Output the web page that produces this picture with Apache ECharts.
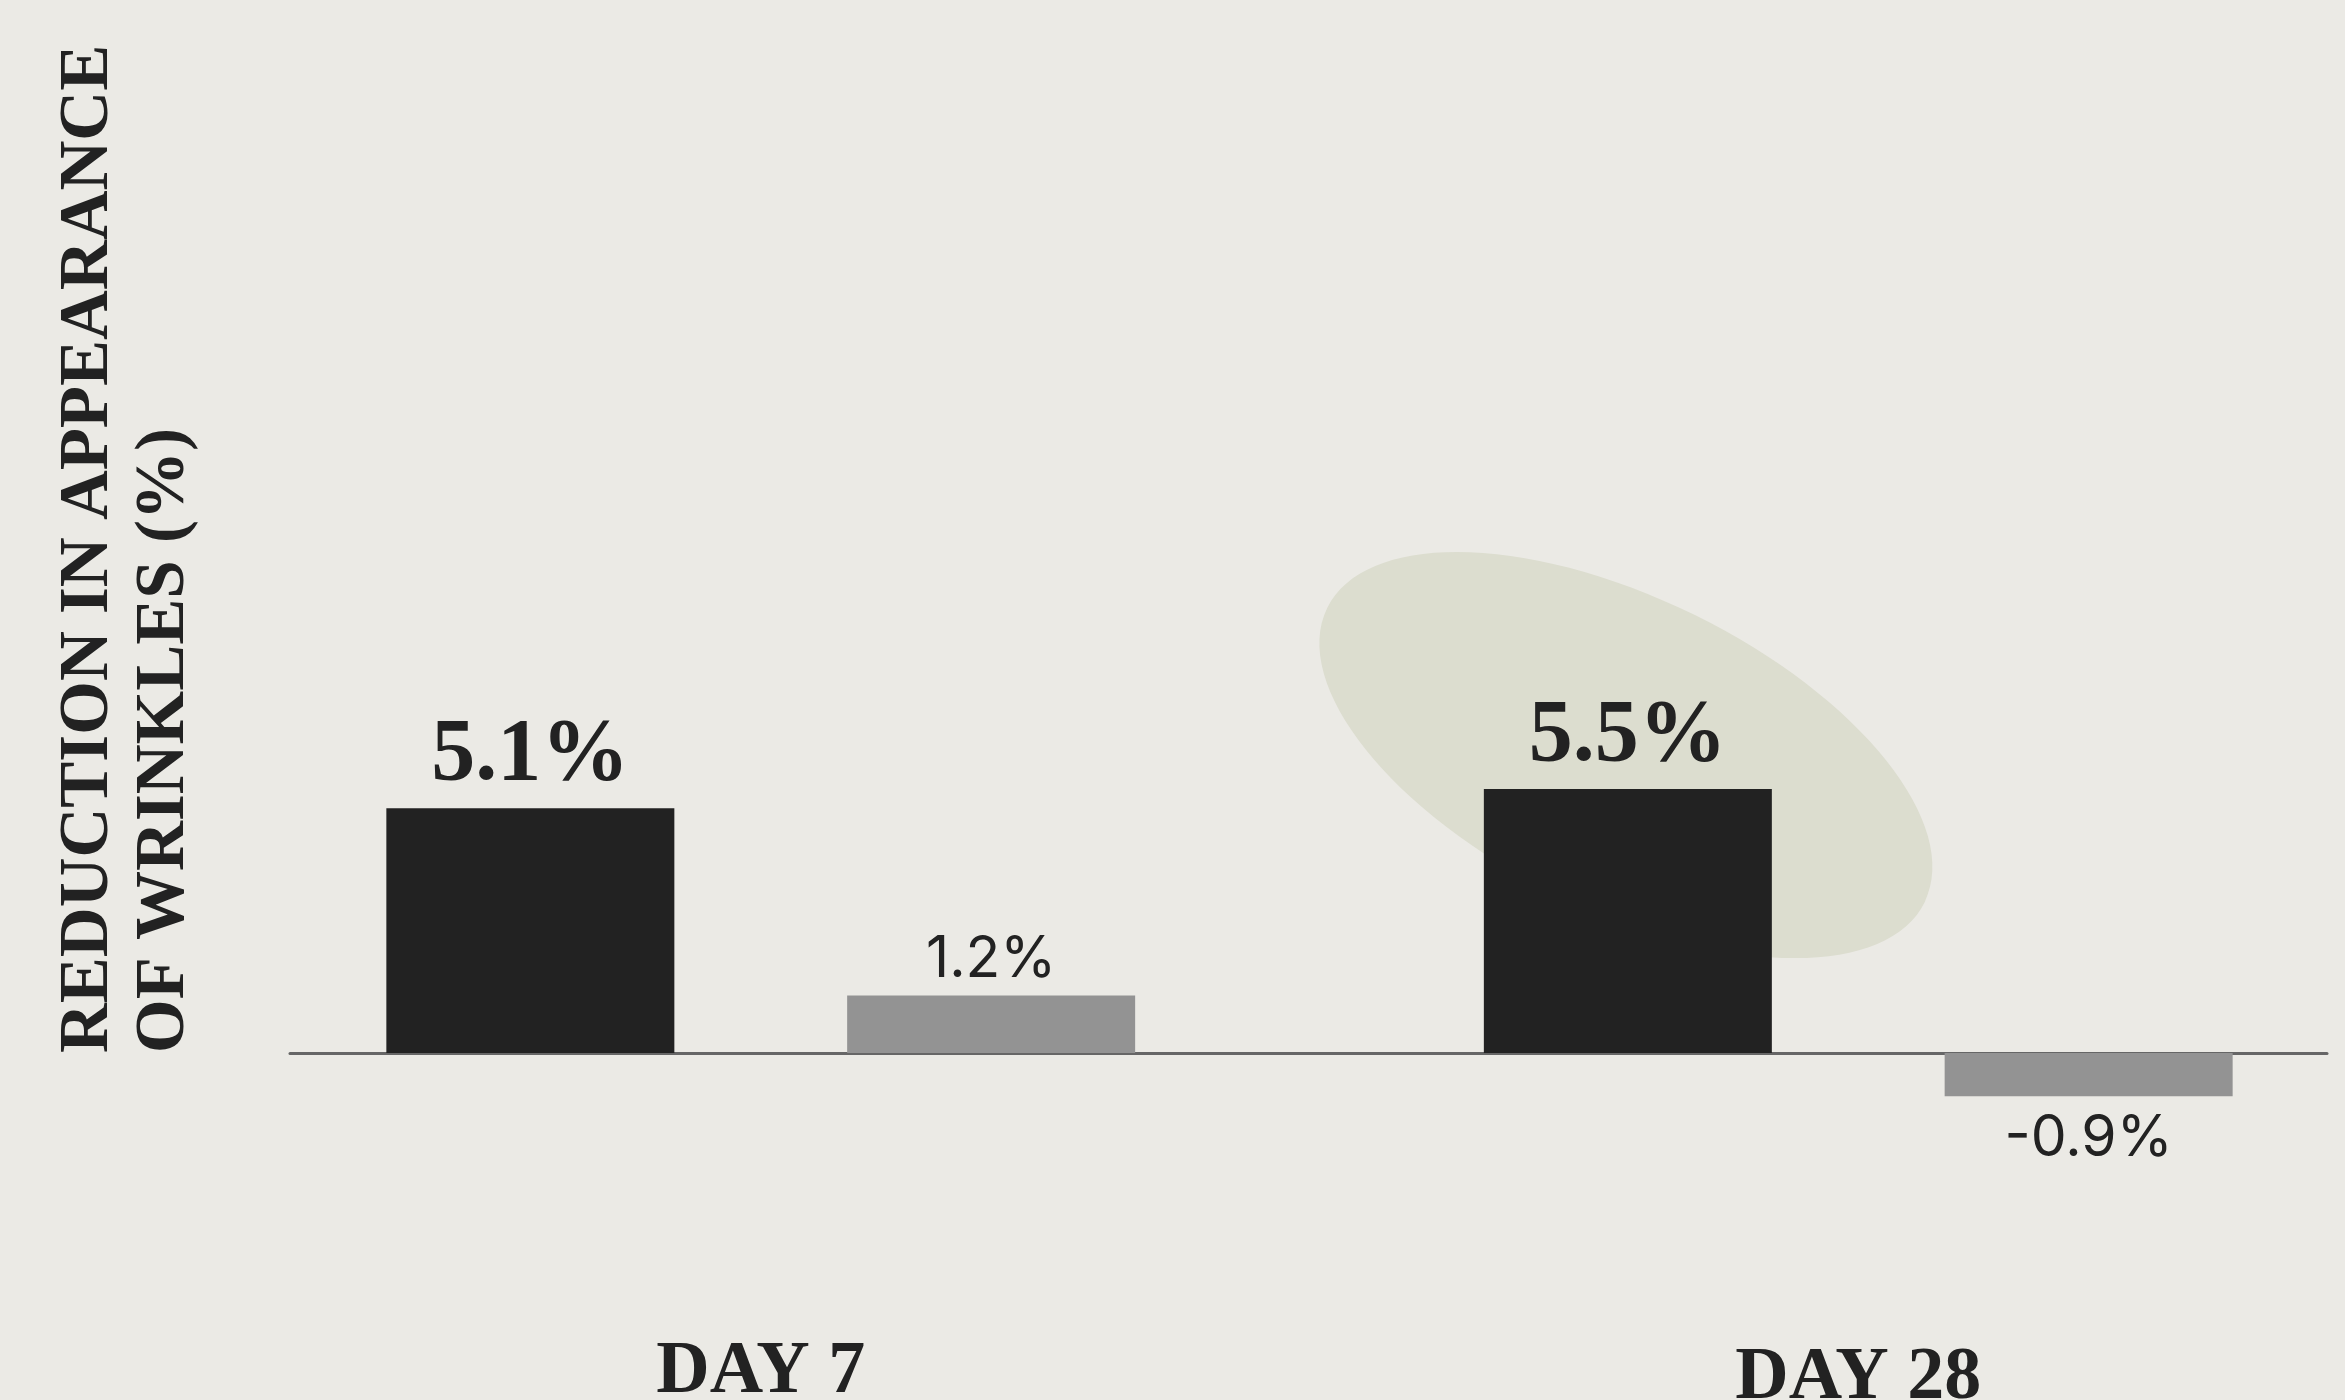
<!DOCTYPE html>
<html>
  <head>
    <meta http-equiv="Content-Type" content="text/html; charset=UTF-8">
    <title>Reduction in appearance of wrinkles</title>
    <style type="text/css">
      * {margin: 0; padding: 0;}
      body {background: #EBEAE5;}
    </style>
  </head>
  <body>
    <div id="chart" style="width:2345px;height:1400px"></div>

    <script src="https://cdn.jsdelivr.net/npm/echarts@6/dist/echarts.min.js" charset="utf-8"></script>
    <script type="text/javascript">
      // data
      var days = ['DAY 7', 'DAY 28'];
      var productVals = [5.1, 5.5];
      var placeboVals = [1.2, -0.9];

      var serif = '"Liberation Serif", "DejaVu Serif", serif';
      var sans = 'Inter, Roboto, sans-serif';

      var chart = echarts.init(document.getElementById('chart'));
      var option = {
        backgroundColor: '#EBEAE5',
        animation: false,
        grid: [
          // bars
          {left: 212, width: 2195, top: 669, height: 480, outerBoundsMode: 'none', containLabel: false},
          // baseline only
          {left: 290, width: 2037, top: 669, height: 480, outerBoundsMode: 'none', containLabel: false}
        ],
        xAxis: [
          {
            type: 'category',
            gridIndex: 0,
            data: days.map(function (d, i) {
              return i === 1 ? {value: d, textStyle: {padding: [6, 0, 0, 0]}} : d;
            }),
            axisLine: {show: false, onZero: false},
            axisTick: {show: false},
            axisLabel: {
              margin: 187,
              fontFamily: serif,
              fontWeight: 'bold',
              fontSize: 74,
              color: '#222222'
            }
          },
          {
            type: 'category',
            gridIndex: 1,
            data: days,
            axisLine: {show: true, onZero: true, lineStyle: {color: '#666666', width: 3}},
            axisTick: {show: false},
            axisLabel: {show: false}
          }
        ],
        yAxis: [
          {type: 'value', gridIndex: 0, min: -2, max: 8, show: false},
          {type: 'value', gridIndex: 1, min: -2, max: 8, show: false}
        ],
        graphic: [
          {
            type: 'ellipse',
            x: 1626,
            y: 755,
            rotation: -0.458,
            z: -10,
            silent: true,
            shape: {cx: 0, cy: 0, rx: 333, ry: 156},
            style: {fill: '#DCDDCF'}
          },
          {
            type: 'text',
            x: 51,
            y: 1053,
            rotation: Math.PI / 2,
            silent: true,
            style: {
              text: 'REDUCTION IN APPEARANCE\nOF WRINKLES (%)',
              font: 'bold 69px ' + serif,
              lineHeight: 76,
              fill: '#222222',
              align: 'left',
              verticalAlign: 'top'
            }
          }
        ],
        series: [
          {
            name: 'Product',
            type: 'bar',
            xAxisIndex: 0,
            yAxisIndex: 0,
            barWidth: 288,
            barGap: '60%',
            itemStyle: {color: '#222222'},
            label: {
              show: true,
              position: 'top',
              distance: 8,
              formatter: '{c}%',
              fontFamily: serif,
              fontWeight: 'bold',
              fontSize: 88,
              color: '#222222'
            },
            data: productVals
          },
          {
            name: 'Placebo',
            type: 'bar',
            xAxisIndex: 0,
            yAxisIndex: 0,
            barWidth: 288,
            barGap: '60%',
            itemStyle: {color: '#939393'},
            label: {
              show: true,
              position: 'top',
              distance: 7,
              formatter: '{c}%',
              fontFamily: sans,
              fontSize: 57,
              color: '#222222'
            },
            data: placeboVals.map(function (v) {
              return v < 0 ? {value: v, label: {position: 'bottom', distance: 14}} : v;
            })
          }
        ]
      };

      chart.setOption(option);
    </script>
  </body>
</html>
